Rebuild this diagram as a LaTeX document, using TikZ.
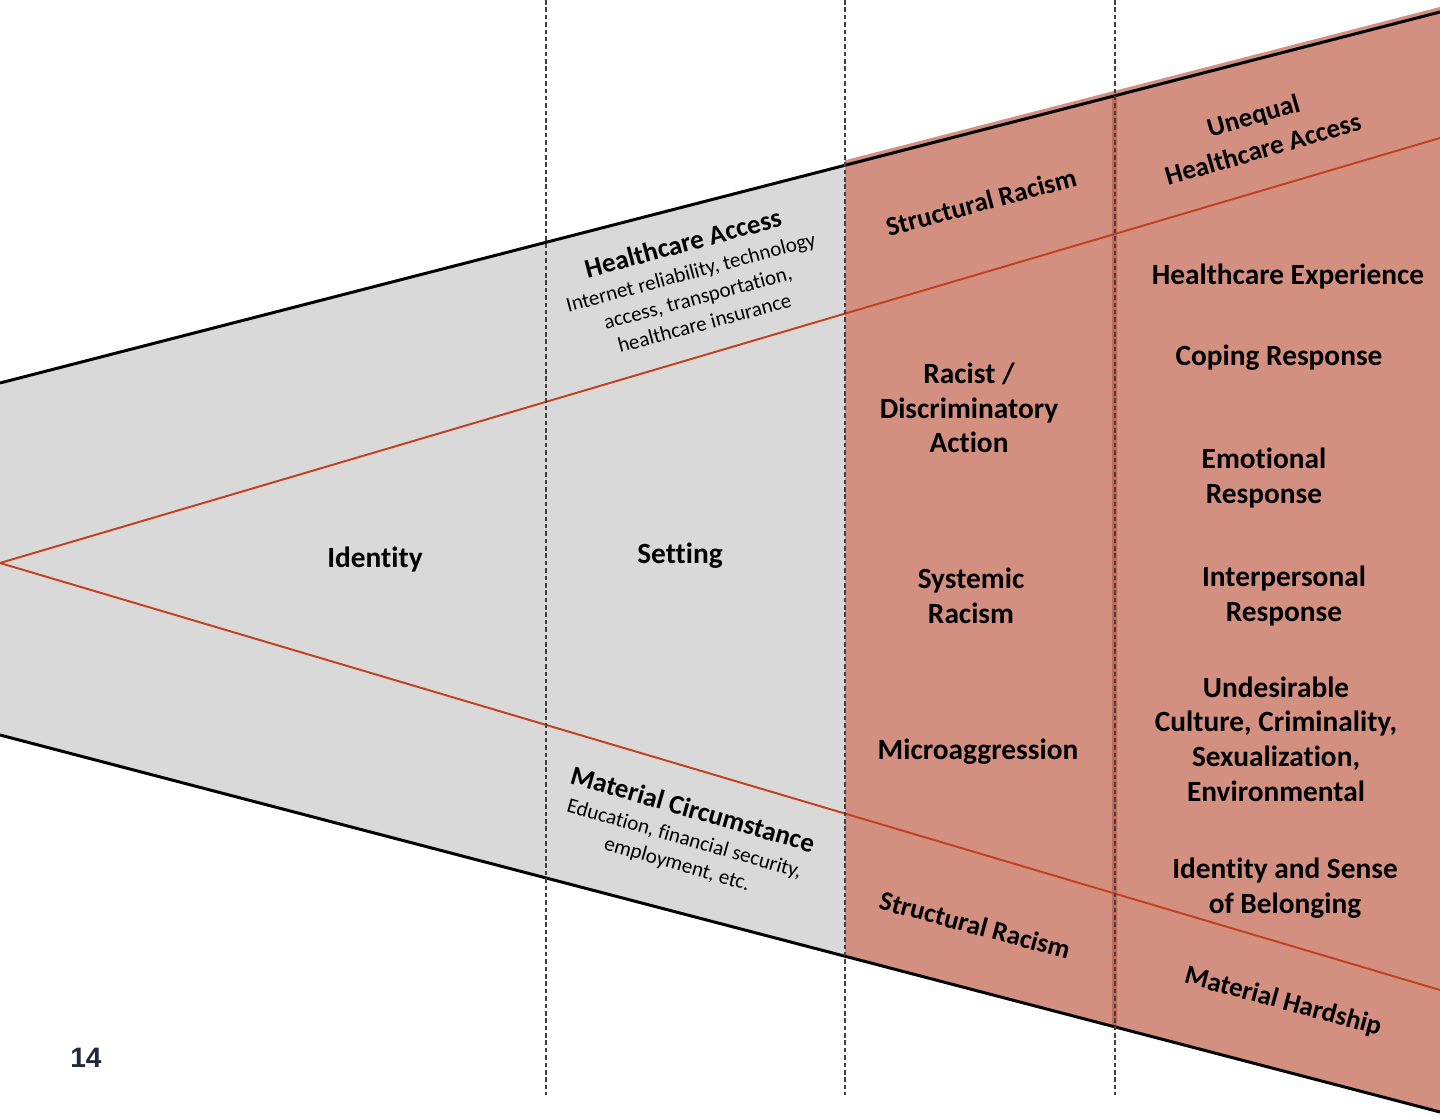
\documentclass[tikz,border=0pt]{standalone}
\usepackage{fontspec}
\setmainfont{Carlito}[Ligatures=NoCommon,Contextuals=NoAlternate]
\newfontfamily\numfont{Liberation Sans}
\usepackage{xcolor}
\usetikzlibrary{positioning,calc}
\definecolor{bandgrey}{HTML}{D9D9D9}
\definecolor{bandred}{HTML}{D38F80}
\definecolor{seamred}{HTML}{C06A57}
\definecolor{splitred}{HTML}{C0401F}
\definecolor{divgrey}{HTML}{404040}
\definecolor{pagenavy}{HTML}{1F2937}
\newcommand{\hdfont}{\fontsize{16.7}{19.8}\selectfont\bfseries}
\newcommand{\slfont}{\fontsize{15.4}{19.8}\selectfont\bfseries}
\newcommand{\smfont}{\fontsize{12}{15}\selectfont\mdseries}

\begin{document}
\begin{tikzpicture}[
  x=0.02cm,y=-0.02cm,
  edge/.style={line width=1.7pt,black},
  split/.style={line width=1.1pt,splitred},
  divider/.style={dash pattern=on 2.6pt off 1.6pt,line width=0.6pt,divgrey},
  lbl/.style={font=\hdfont,align=center,inner sep=0pt},
  slant/.style={lbl,font=\slfont,rotate=#1},
  detail/.style={font=\smfont,align=center,inner xsep=0pt,inner ysep=7pt,rotate=#1,anchor=north}
]
  \useasboundingbox (0,0) rectangle (1440,1118);

  % outer band and split lines
  \coordinate (tl) at (0,383);
  \coordinate (tr) at (1440,12);
  \coordinate (bl) at (0,735);
  \coordinate (br) at (1440,1112);
  \coordinate (apex) at (0,563);
  \coordinate (rt) at (1440,138);
  \coordinate (rb) at (1440,990);
  \coordinate (mt) at (845,165.3);
  \coordinate (mb) at (845,956.2);

  \fill[bandgrey] (tl) -- (mt) -- (mb) -- (bl) -- cycle;
  \fill[bandred] ($(mt)+(0,-5)$) -- ($(tr)+(0,-5)$) -- (br) -- (mb) -- cycle;
  \fill[seamred] (1112,96.5) -- (1117,95.3) -- (1117,1027.4) -- (1112,1026.1) -- cycle;

  \draw[split] (apex) -- (rt);
  \draw[split] (apex) -- (rb);
  \draw[edge] (tl) -- (tr);
  \draw[edge] (bl) -- (br);

  % column dividers
  \foreach \cx/\nm in {546/one,845/two,1115/three}{
    \coordinate (\nm top) at (\cx,0);
    \coordinate (\nm bot) at (\cx,1095);
    \draw[divider] (\nm top) -- (\nm bot);
  }

  % grey part
  \node[lbl] (identity) at (375,560) {Identity};
  \node[lbl] (setting) at (680,556) {Setting};
  \node[slant=15] (hcaccess) at (683,243) {Healthcare Access};
  \node[detail=15] (hcdetail) at (hcaccess.south) {Internet reliability, technology\\access, transportation,\\healthcare insurance};
  \node[slant=-16] (matcirc) at (693,809) {Material Circumstance};
  \node[detail=-16] (mcdetail) at (matcirc.south) {Education, financial security,\\employment, etc.};

  % racism column
  \node[slant=15] (structop) at (981,202) {Structural Racism};
  \node[lbl] (racist) at (969,408) {Racist /\\Discriminatory\\Action};
  \node[lbl] (systemic) at (971,596) {Systemic\\Racism};
  \node[lbl] (micro) at (978,752) {Microaggression};
  \node[slant=-15] (strucbot) at (975,925) {Structural Racism};

  % outcome column
  \node[slant=16] (unequal) at (1258,132) {Unequal\\Healthcare Access};
  \node[lbl] (hcexp) at (1288,277) {Healthcare Experience};
  \node[lbl] (coping) at (1279,358) {Coping Response};
  \node[lbl] (emotion) at (1264,478) {Emotional\\Response};
  \node[lbl] (interp) at (1284,596) {Interpersonal\\Response};
  \node[lbl] (undesir) at (1276,739) {Undesirable\\Culture, Criminality,\\Sexualization,\\Environmental};
  \node[lbl] (belong) at (1285,888) {Identity and Sense\\of Belonging};
  \node[slant=-15] (hardship) at (1283,1002) {Material Hardship};

  \node[font=\numfont\fontsize{16}{18}\selectfont\bfseries,text=pagenavy,inner sep=0pt] (pagenum) at (86,1058) {14};
\end{tikzpicture}
\end{document}
